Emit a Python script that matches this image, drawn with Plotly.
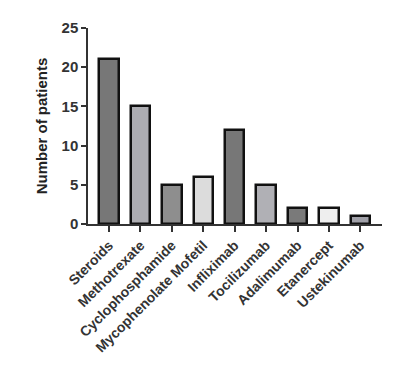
import plotly.graph_objects as go

categories = ["Steroids", "Methotrexate", "Cyclophosphamide", "Mycophenolate Mofetil",
              "Infliximab", "Tocilizumab", "Adalimumab", "Etanercept", "Ustekinumab"]
patients = [21, 15, 5, 6, 12, 5, 2, 2, 1]
bar_colors = ["#777777", "#adadb2", "#8e8e8e", "#dcdcdc", "#777777",
              "#b0b0b5", "#7a7a7a", "#eeeeee", "#a0a0a8"]
y_ticks = [0, 5, 10, 15, 20, 25]

fig = go.Figure(go.Bar(
    x=list(range(len(categories))), y=patients,
    marker=dict(color=bar_colors, line=dict(color="#111111", width=2.5)),
    width=0.62,
))

fig.update_layout(
    width=417, height=376,
    margin=dict(l=80, r=43, t=20, b=160),
    plot_bgcolor="white", paper_bgcolor="white",
    font=dict(family="Liberation Sans, Arial, sans-serif", color="#222222"),
    showlegend=False,
    bargap=0,
)
fig.update_xaxes(
    range=[-0.67, 8.69], automargin=False,
    tickmode="array", tickvals=list(range(len(categories))),
    ticktext=["<b>%s</b>" % c for c in categories],
    tickangle=-45, tickfont=dict(size=14, color="#333333"),
    showline=True, linecolor="#333333", linewidth=1.5,
    ticks="outside", ticklen=6, tickwidth=1.5, tickcolor="#333333",
    showgrid=False, zeroline=False,
)
fig.update_yaxes(
    range=[0, 25], automargin=False,
    tickmode="array", tickvals=y_ticks,
    ticktext=["<b>%d</b>" % v for v in y_ticks],
    tickfont=dict(size=15, color="#333333"),
    title=dict(text="<b>Number of patients</b>", font=dict(size=15, color="#222222"), standoff=10),
    showline=True, linecolor="#333333", linewidth=1.5,
    ticks="outside", ticklen=5, tickwidth=1.5, tickcolor="#333333",
    showgrid=False, zeroline=False,
)

fig.write_html("out.html")
